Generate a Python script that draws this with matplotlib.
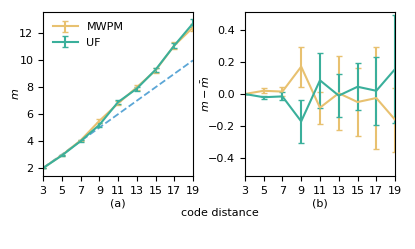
import numpy as np
import matplotlib.pyplot as plt

d = [3, 5, 7, 9, 11, 13, 15, 17, 19]
mwpm_m = [2.0, 2.95, 4.05, 5.5, 6.8, 8.0, 9.25, 11.1, 12.45]
mwpm_err = [0.02, 0.03, 0.05, 0.15, 0.15, 0.2, 0.2, 0.25, 0.25]
uf_m = [2.0, 2.93, 4.0, 5.2, 6.9, 7.9, 9.3, 11.1, 12.75]
uf_err = [0.02, 0.03, 0.05, 0.15, 0.15, 0.15, 0.15, 0.2, 0.3]
ref_line = [2.0, 10.0]

mwpm_diff = [0.0, 0.02, 0.015, 0.17, -0.085, 0.005, -0.05, -0.025, -0.16]
mwpm_diff_err = [0.0, 0.015, 0.03, 0.125, 0.1, 0.23, 0.21, 0.32, 0.2]
uf_diff = [0.0, -0.02, -0.015, -0.17, 0.085, -0.01, 0.045, 0.02, 0.155]
uf_diff_err = [0.0, 0.01, 0.025, 0.135, 0.17, 0.135, 0.145, 0.21, 0.335]

c_mwpm = '#e8c170'
c_uf = '#3aaf9b'
c_ref = '#5ba6d6'

plt.rcParams['font.size'] = 8
fig = plt.figure(figsize=(4.15, 2.49), dpi=100)
ax1 = fig.add_axes([0.104, 0.293, 0.361, 0.659])
ax2 = fig.add_axes([0.590, 0.293, 0.362, 0.659])

ax1.plot([d[0], d[-1]], ref_line, '--', color=c_ref, lw=1.3)
ax1.errorbar(d, mwpm_m, yerr=mwpm_err, color=c_mwpm, lw=1.5, capsize=2, label='MWPM')
ax1.errorbar(d, uf_m, yerr=uf_err, color=c_uf, lw=1.5, capsize=2, label='UF')
ax1.set_xlim(3, 19)
ax1.set_ylim(1.4, 13.6)
ax1.set_xticks(d)
ax1.set_yticks([2, 4, 6, 8, 10, 12])
ax1.set_ylabel('$m$', labelpad=-1)
ax1.legend(loc='upper left', frameon=False, handlelength=2.2)
ax1.set_xlabel('(a)', labelpad=2)

ax2.errorbar(d, mwpm_diff, yerr=mwpm_diff_err, color=c_mwpm, lw=1.5, capsize=2)
ax2.errorbar(d, uf_diff, yerr=uf_diff_err, color=c_uf, lw=1.5, capsize=2)
ax2.set_xlim(3, 19)
ax2.set_ylim(-0.51, 0.51)
ax2.set_xticks(d)
ax2.set_yticks([-0.4, -0.2, 0.0, 0.2, 0.4])
ax2.set_ylabel(r'$m-\bar{m}$', labelpad=-3)
ax2.set_xlabel('(b)', labelpad=2)

fig.text(0.53, 0.145, 'code distance', ha='center', va='center')

fig.savefig('out.png', dpi=100)
